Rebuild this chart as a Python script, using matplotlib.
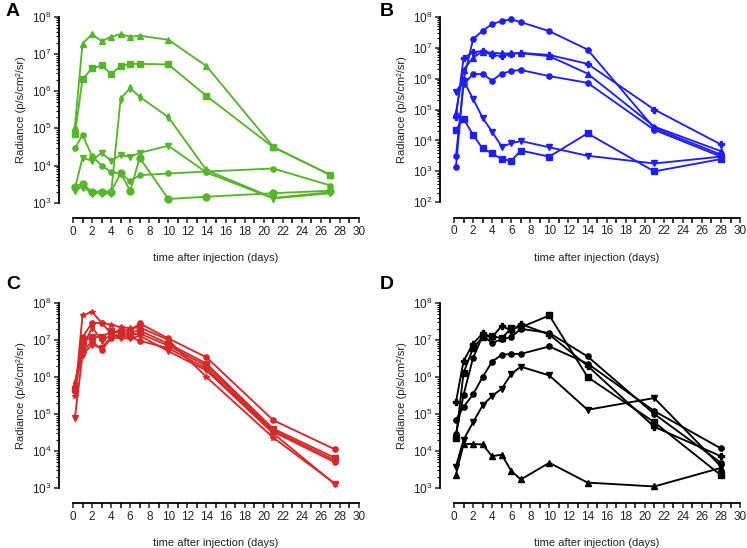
import matplotlib
matplotlib.use("Agg")
import matplotlib.pyplot as plt
import matplotlib.ticker as mticker
import numpy as np

plt.rcParams['font.family'] = ['Liberation Sans', 'DejaVu Sans']
plt.rcParams['mathtext.fontset'] = 'custom'
plt.rcParams['mathtext.rm'] = 'Liberation Sans'

# ---- data (radiance, p/s/cm2/sr) ----
days_a = [0.2, 1, 2, 3, 4, 5, 6, 7, 10, 14, 21, 27]
a_tri = [1.1e5, 1.9e7, 3.4e7, 2.2e7, 2.9e7, 3.4e7, 2.9e7, 3.1e7, 2.4e7, 4.7e6, 3.2e4, 5.5e3]
a_sq = [6.9e4, 2.1e6, 4.1e6, 4.9e6, 2.9e6, 4.7e6, 5.4e6, 5.4e6, 5.2e6, 7.4e5, 3.1e4, 5.6e3]
a_dia = [2.2e3, 2.7e3, 1.8e3, 1.8e3, 1.8e3, 6.3e5, 1.2e6, 7.0e5, 2.0e5, 7.5e3, 1.35e3, 1.9e3]
a_down = [2.4e3, 1.6e4, 1.35e4, 2.2e4, 1.35e4, 1.9e4, 1.7e4, 2.2e4, 3.4e4, 6.5e3, 1.3e3, 1.8e3]
a_circ = [2.9e4, 6.6e4, 1.8e4, 1.0e4, 6.7e3, 6.1e3, 3.8e3, 5.5e3, 6.1e3, 6.9e3, 8.3e3, 2.9e3]
a_big = [2.7e3, 3.2e3, 2.0e3, 2.0e3, 2.0e3, 6.2e3, 2.1e3, 1.6e4, 1.26e3, 1.45e3, 1.8e3, 2.1e3]

days_b = [0.2, 1, 2, 3, 4, 5, 6, 7, 10, 14, 21, 28]
b_circ_top = [1.35e3, 9e5, 1.9e7, 3.5e7, 5.8e7, 7.2e7, 8.2e7, 6.7e7, 3.4e7, 8.7e6, 2.5e4, 3.5e3]
b_plus = [5.9e4, 4.6e6, 7.2e6, 7.7e6, 5.8e6, 5.3e6, 6.3e6, 6.8e6, 5.8e6, 3.0e6, 1.0e5, 7.4e3]
b_tri = [8e4, 1.9e6, 4.8e6, 7.5e6, 6.8e6, 6.5e6, 6.5e6, 6.6e6, 5.3e6, 1.45e6, 2.8e4, 4.5e3]
b_circ = [3.1e3, 6.5e5, 1.4e6, 1.4e6, 8.6e5, 1.45e6, 1.75e6, 1.9e6, 1.2e6, 7.3e5, 2.2e4, 3.0e3]
b_down = [3.8e5, 8.5e5, 2.2e5, 5.4e4, 1.9e4, 6.3e3, 8.1e3, 9.6e3, 6.0e3, 3.2e3, 1.8e3, 3.0e3]
b_sq = [2.2e4, 5.1e4, 1.5e4, 5.5e3, 3.8e3, 2.5e3, 2.2e3, 4.7e3, 3.0e3, 1.7e4, 1.0e3, 2.5e3]

days_c = [0.2, 1, 2, 3, 4, 5, 6, 7, 10, 14, 21, 27.5]
c_star = [3e5, 4.6e7, 5.8e7, 2.9e7, 2.6e7, 2.2e7, 2.1e7, 2.2e7, 1.0e7, 1.0e6, 2.3e4, 1.3e3]
c_circ = [5.5e5, 1.2e7, 2.9e7, 2.9e7, 1.5e7, 1.9e7, 1.8e7, 2.8e7, 1.1e7, 3.4e6, 6.8e4, 1.1e4]
c_sq = [4.8e5, 9e6, 1.2e7, 1.2e7, 1.7e7, 1.6e7, 1.6e7, 1.8e7, 8e6, 2.3e6, 4e4, 6.5e3]
c_dia = [7e5, 6e6, 2.2e7, 1.0e7, 1.3e7, 1.4e7, 1.4e7, 1.5e7, 7e6, 2e6, 3.6e4, 5.6e3]
c_big = [4.3e5, 5e6, 9e6, 5.5e6, 1.1e7, 1.3e7, 1.2e7, 9.5e6, 6e6, 1.7e6, 3.3e4, 4.9e3]
c_down = [8e4, 4e6, 7.5e6, 6e6, 1.2e7, 1.1e7, 1.1e7, 1.3e7, 5e6, 1.5e6, 3e4, 1.25e3]

days_d = [0.2, 1, 2, 3, 4, 5, 6, 7, 10, 14, 21, 28]
d_sq = [2.2e4, 1.3e6, 6e6, 1.2e7, 1.3e7, 1.1e7, 2.1e7, 2.2e7, 4.6e7, 1.0e6, 6e4, 2.2e3]
d_plus = [2.1e5, 2.7e6, 8e6, 1.5e7, 1.2e7, 2.4e7, 1.8e7, 2.7e7, 1.4e7, 2.0e6, 4.5e4, 7.2e3]
d_circ_top = [2.8e4, 3.3e5, 3.3e6, 1.3e7, 8.3e6, 1.05e7, 1.2e7, 2.0e7, 1.55e7, 3.6e6, 1.0e5, 4.8e3]
d_circ = [7e4, 1.55e5, 3.4e5, 1.0e6, 2.6e6, 4.0e6, 4.2e6, 4.2e6, 6.7e6, 2.3e6, 1.2e5, 1.17e4]
d_down = [3.8e3, 2e4, 6e4, 1.7e5, 3.1e5, 4.8e5, 1.2e6, 1.9e6, 1.1e6, 1.3e5, 2.7e5, 3.8e3]
d_tri = [2.3e3, 1.55e4, 1.55e4, 1.5e4, 7.2e3, 8e3, 2.9e3, 1.7e3, 4.8e3, 1.4e3, 1.1e3, 3.5e3]

panels = [
    ('A', '#57b52c', days_a, [a_tri, a_sq, a_dia, a_down, a_circ, a_big], ['^', 's', 'd', 'v', 'o', 'o'], 3),
    ('B', '#1f1ff2', days_b, [b_circ_top, b_plus, b_tri, b_circ, b_down, b_sq], ['o', 'P', '^', 'o', 'v', 's'], 2),
    ('C', '#d42a2a', days_c, [c_star, c_circ, c_sq, c_dia, c_big, c_down], ['*', 'o', 's', 'd', 'o', 'v'], 3),
    ('D', '#000000', days_d, [d_sq, d_plus, d_circ_top, d_circ, d_down, d_tri], ['s', 'P', 'o', 'o', 'v', '^'], 3),
]

positions = [
    [0.0977, 0.6301, 0.3829, 0.3394],
    [0.6078, 0.6308, 0.3829, 0.3387],
    [0.0977, 0.1095, 0.3829, 0.3376],
    [0.6078, 0.1095, 0.3829, 0.3376],
]
letter_pos = [(0.008, 0.995), (0.508, 0.995), (0.008, 0.497), (0.508, 0.497)]

fig = plt.figure(figsize=(7.47, 5.48), dpi=100)

for (letter, col, days, series, marks, ymin_exp), pos, lp in zip(panels, positions, letter_pos):
    ax = fig.add_axes(pos)
    for vals, m in zip(series, marks):
        ms = 5 if vals is a_big else 3.8
        ax.plot(days, vals, color=col, marker=m, markersize=ms, linewidth=1.35, clip_on=False)
    ax.set_yscale('log')
    ax.set_xlim(0, 30)
    ax.set_ylim(10 ** ymin_exp, 1e8)
    ax.spines['top'].set_visible(False)
    ax.spines['right'].set_visible(False)
    ax.spines['left'].set_position(('outward', 10))
    ax.spines['bottom'].set_position(('outward', 11))
    ax.spines['left'].set_linewidth(1.3)
    ax.spines['bottom'].set_linewidth(1.3)
    ax.set_xticks(np.arange(0, 31, 2))
    ax.xaxis.set_minor_locator(mticker.MultipleLocator(1))
    exps = list(range(ymin_exp, 9))
    ax.set_yticks([10.0 ** e for e in exps])
    ax.set_yticklabels([r'$\mathregular{10^{%d}}$' % e for e in exps])
    ax.yaxis.set_minor_locator(mticker.LogLocator(base=10, subs=np.arange(2, 10), numticks=20))
    ax.yaxis.set_minor_formatter(mticker.NullFormatter())
    ax.tick_params(axis='both', which='major', direction='out', length=3.5, width=1.1,
                   labelsize=8.5, colors='#222222', pad=2)
    ax.tick_params(axis='x', which='minor', direction='out', length=3.5, width=1.1)
    ax.tick_params(axis='y', which='minor', direction='out', length=2, width=0.8)
    ax.set_xlabel('time after injection (days)', fontsize=8, labelpad=11, color='#222222')
    ax.set_ylabel('Radiance (p/s/cm²/sr)', fontsize=8, labelpad=4, color='#222222')
    fig.text(lp[0], lp[1], letter, fontsize=14, fontweight='bold', va='top', ha='left')

fig.savefig('out.png', dpi=100)
